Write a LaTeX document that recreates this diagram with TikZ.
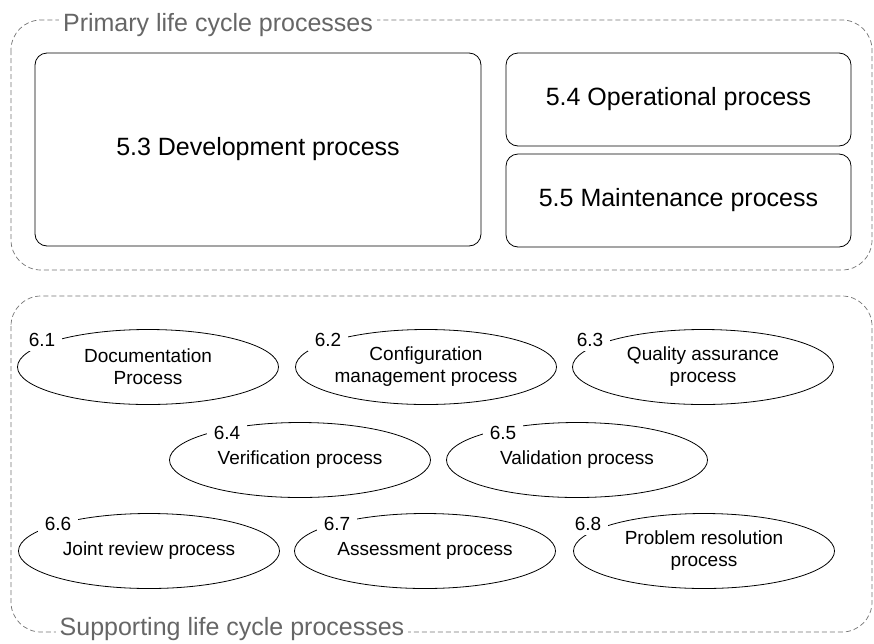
\documentclass[tikz,border=0pt]{standalone}
\usepackage{fontspec}
\setmainfont{Liberation Sans}
\usepackage{tikz}
\usetikzlibrary{shapes.geometric}
\tikzstyle{group} = [draw=black!55, dash pattern=on 5pt off 3pt, line width=0.7pt, rounded corners=30pt]
\tikzstyle{grouplabel} = [fill=white, text=black!60, inner sep=4pt, font=\fontsize{25}{30}\selectfont]
\tikzstyle{procbox} = [rectangle, draw, line width=0.8pt, rounded corners=12pt, font=\fontsize{25}{30}\selectfont]
\tikzstyle{activity} = [ellipse, draw, line width=0.8pt, minimum width=261pt, minimum height=75pt, inner sep=0pt, align=center, font=\fontsize{19}{22}\selectfont]
\tikzstyle{number} = [fill=white, inner xsep=7pt, inner ysep=4pt, font=\fontsize{19}{22}\selectfont]

\begin{document}
\begin{tikzpicture}[x=1pt, y=-1pt]
 \useasboundingbox (0,0) rectangle (874,643);

 %groups
 \draw[group] (11,20) rectangle (872,270);
 \draw[group] (11,296) rectangle (872,632);
 \node[grouplabel] (primary) at (218,25) {Primary life cycle processes};
 \node[grouplabel] (supporting) at (232,629) {Supporting life cycle processes};

 %primary processes
 \node[procbox, minimum width=446pt, minimum height=193pt] (dev) at (258,149.5) {5.3 Development process};
 \node[procbox, minimum width=345pt, minimum height=93pt] (oper) at (678.5,99.5) {5.4 Operational process};
 \node[procbox, minimum width=345pt, minimum height=93pt] (maint) at (678.5,200.5) {5.5 Maintenance process};

 %supporting processes
 \foreach \x/\y/\name/\num/\dx/\txt in {
     148/367/doc/6.1/-106/{Documentation\\Process},
     426/367/conf/6.2/-98/{Configuration\\management process},
     703/367/qa/6.3/-113/{Quality assurance\\process},
     300/460/verif/6.4/-73/{Verification process},
     577/460/valid/6.5/-74/{Validation process},
     149/551/joint/6.6/-91/{Joint review process},
     425/551/assess/6.7/-88/{Assessment process},
     704/551/probl/6.8/-116/{Problem resolution\\process}}
  {
   \node[activity] (\name) at (\x,\y) {\txt};
   \node[number] (n\name) at (\x+\dx, \y-27) {\num};
  }

\end{tikzpicture}
\end{document}
